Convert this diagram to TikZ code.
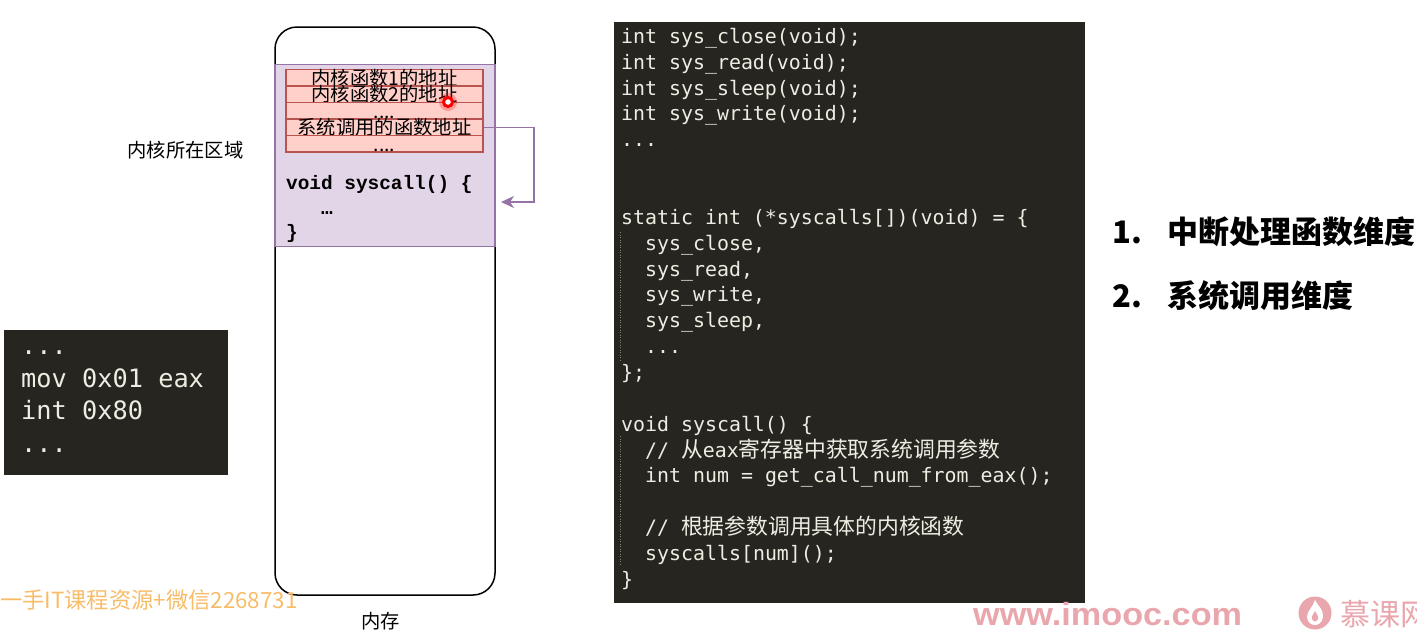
\documentclass[tikz,border=0pt]{standalone}
\usepackage{fontspec}
\usetikzlibrary{arrows.meta}
\setmainfont{Noto Sans CJK SC}
\newfontfamily\codefont{DejaVu Sans Mono}
\newfontfamily\courfont{Liberation Mono}
\newfontfamily\cjk{Noto Sans CJK SC}
\newfontfamily\webfont[FakeStretch=1.07]{Liberation Sans}
\newcommand{\ind}{\hspace*{24pt}}
\newcommand{\cn}[1]{{\cjk\fontsize{21.8}{26}\selectfont #1}}
\newcommand{\rowdots}{....}
\definecolor{codebg}{HTML}{26251F}
\definecolor{codefg}{HTML}{EFEDE2}
\definecolor{kernfill}{HTML}{E1D5E7}
\definecolor{kernline}{HTML}{9673A6}
\definecolor{rowfill}{HTML}{FFCFC9}
\definecolor{rowline}{HTML}{B85450}
\definecolor{wmorange}{HTML}{F8BC68}
\definecolor{wmpink}{HTML}{E9A6AC}
\tikzset{
	codebox/.style={fill=codebg,draw=none,anchor=north west,inner sep=0pt},
	codetext/.style={anchor=north west,inner sep=0pt,align=left,text=codefg},
	rowbox/.style={draw=rowline,fill=rowfill,line width=1.1pt,minimum width=197pt,minimum height=16.5pt,inner sep=0pt,text height=15pt,text depth=0.4pt,font=\fontsize{19.3}{20}\selectfont},
	plain/.style={inner sep=0pt,font=\fontsize{19.3}{20}\selectfont},
	point/.style={font=\bfseries\fontsize{31}{34}\selectfont,inner sep=0pt,anchor=base west}
}
\begin{document}
\begin{tikzpicture}[>=stealth,x=1pt,y=-1pt]
	\useasboundingbox (0,0) rectangle (1417,630);
	% memory
	\node[draw=black,line width=1.5pt,rounded corners=22pt,minimum width=220pt,minimum height=568pt,inner sep=0pt] (memory) at (385,311) {};
	\node[draw=kernline,fill=kernfill,line width=1.4pt,minimum width=220pt,minimum height=182.5pt,inner sep=0pt] (kernel) at (385,155.5) {};
	\foreach \i/\txt in {1/内核函数1的地址,2/内核函数2的地址,3/\rowdots,4/系统调用的函数地址,5/\rowdots}
		\node[rowbox] (row\i) at (384.5,{61.25+16.5*\i}) {\txt};
	\node[anchor=north west,inner sep=0pt,align=left,font=\courfont\bfseries\fontsize{19.4}{24.5}\selectfont] (callcode) at (286,175.5) {void syscall() \{\\\hspace*{34.8pt}…\\\}};
	\coordinate (bend) at (534,202);
	\coordinate (tip) at (501,202);
	\draw[->,draw=kernline,line width=1.4pt,>={Stealth[length=13pt,width=12pt,inset=4pt]}] (row4.east) -| (bend) -- (tip);
	% cursor
	\node[circle,fill=red,opacity=0.25,minimum size=18pt,inner sep=0pt] (glow) at (448,102) {};
	\node[circle,draw=red,fill=white,line width=3pt,minimum size=9pt,inner sep=0pt] (cursor) at (448,102) {};
	% labels
	\node[plain] (kernlabel) at (185.5,150) {内核所在区域};
	\node[plain] (memlabel) at (380.5,621) {内存};
	% left code
	\node[codebox,minimum width=224.5pt,minimum height=145pt] (leftbox) at (3.3,330) {};
	\node[codetext,font=\codefont\fontsize{25.3}{32.5}\selectfont] (leftcode) at (21,351) {...\\mov 0x01 eax\\int 0x80\\...};
	% right code
	\node[codebox,minimum width=471.5pt,minimum height=581pt] (rightbox) at (613.5,22) {};
	\draw[gray,line width=0.5pt,dash pattern=on 1pt off 1.5pt] (620.5,232) -- (620.5,360) (620.5,436) -- (620.5,566);
	\node[codetext,font=\codefont\fontsize{19.9}{25.85}\selectfont] (rightcode) at (621,28) {int sys\_close(void);\\
int sys\_read(void);\\
int sys\_sleep(void);\\
int sys\_write(void);\\
...\\
\mbox{}\\
\mbox{}\\
static int (*syscalls[])(void) = \{\\
\ind sys\_close,\\
\ind sys\_read,\\
\ind sys\_write,\\
\ind sys\_sleep,\\
\ind ...\\
\};\\
\mbox{}\\
void syscall() \{\\
\ind // \cn{从}eax\cn{寄存器中获取系统调用参数}\\
\ind int num = get\_call\_num\_from\_eax();\\
\mbox{}\\
\ind // \cn{根据参数调用具体的内核函数}\\
\ind syscalls[num]();\\
\}};
	% points
	\node[point] (onenum) at (1112,243) {1.};
	\node[point] (onetxt) at (1167,243) {中断处理函数维度};
	\node[point] (twonum) at (1112,307) {2.};
	\node[point] (twotxt) at (1167,307) {系统调用维度};
	% watermarks
	\node[anchor=base west,inner sep=0pt,text=wmorange,font=\fontsize{22.3}{24}\selectfont] (wmleft) at (0,608) {一手IT课程资源+微信2268731};
	\node[anchor=base west,inner sep=0pt,text=wmpink,font=\webfont\bfseries\fontsize{32}{33}\selectfont] (wmsite) at (973,625) {www.imooc.com};
	\node[circle,fill=wmpink,minimum size=33pt,inner sep=0pt] (logo) at (1315,613) {};
	\fill[white] (1315,600) .. controls (1318,606) and (1324,610) .. (1323,617) .. controls (1322,623) and (1318,625) .. (1315,625) .. controls (1311,625) and (1307,622) .. (1307,617) .. controls (1307,611) and (1313,607) .. (1315,600);
	\fill[wmpink] (1315,611) .. controls (1316,614) and (1319,616) .. (1318,619) .. controls (1317,622) and (1313,622) .. (1312,619) .. controls (1311,616) and (1314,614) .. (1315,611);
	\node[anchor=base west,inner sep=0pt,text=wmpink,font=\fontsize{30}{32}\selectfont] (wmname) at (1340,625) {慕课网};
\end{tikzpicture}
\end{document}
